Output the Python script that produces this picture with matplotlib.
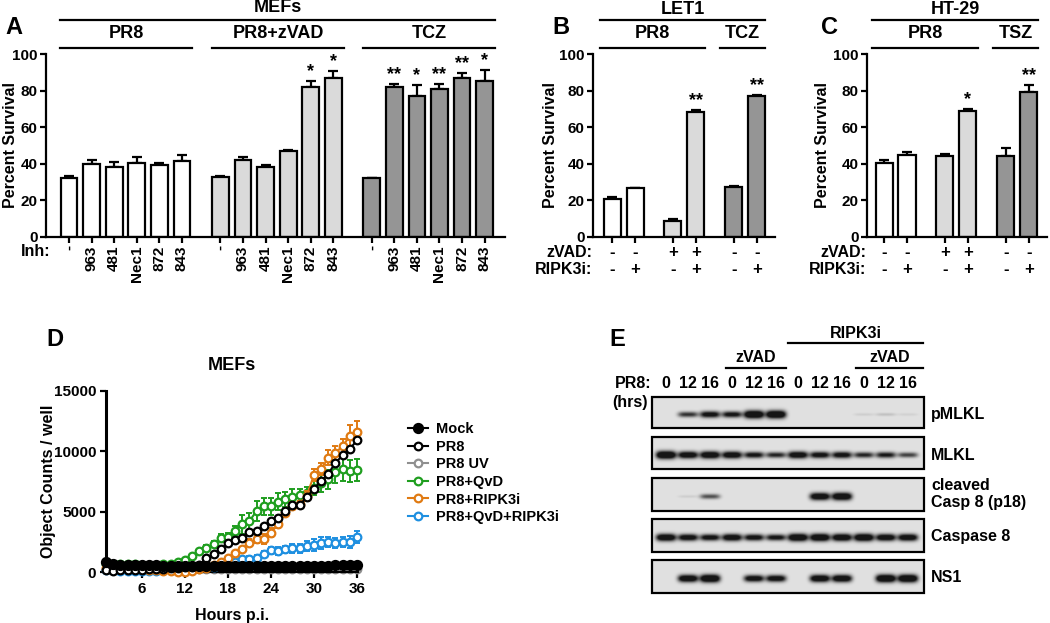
import matplotlib
matplotlib.use('Agg')
import matplotlib.pyplot as plt
import numpy as np
from matplotlib.transforms import offset_copy
from matplotlib.colors import LinearSegmentedColormap

plt.rcParams['font.family'] = ['Liberation Sans', 'DejaVu Sans']
plt.rcParams['font.weight'] = 'bold'
plt.rcParams['axes.labelweight'] = 'bold'
plt.rcParams['axes.titleweight'] = 'bold'
plt.rcParams['axes.linewidth'] = 1.6

W, H = 1050, 623
WHITE, LIGHT, DARK = 'white', '#dadada', '#959595'

# ---- panel A: MEFs, percent survival
a_inh = ['-', '963', '481', 'Nec1', '872', '843']
a_groups = ['PR8', 'PR8+zVAD', 'TCZ']
a_pr8 = [32, 40, 38, 40.5, 39.5, 41.5]
a_pr8_err = [1.5, 2, 3, 3, 1, 3.5]
a_zvad = [33, 42, 38, 47, 82, 87]
a_zvad_err = [0.5, 1.5, 1.5, 0.5, 3, 3.5]
a_tcz = [32, 82, 77, 81, 87, 85]
a_tcz_err = [0.5, 1.5, 6, 2.5, 2.5, 6]
a_zvad_stars = ['', '', '', '', '*', '*']
a_tcz_stars = ['', '**', '*', '**', '**', '*']

# ---- panel B: LET1
b_vals = [20.5, 27, 8.5, 68.5, 27.5, 77]
b_err = [1.5, 0, 1.5, 1, 0.5, 0.5]
b_stars = ['', '', '', '**', '', '**']
# ---- panel C: HT-29
c_vals = [40.5, 45, 44, 69, 44.5, 79]
c_err = [1.5, 1.5, 1.5, 1, 4, 4]
c_stars = ['', '', '', '*', '', '**']
bc_zvad = ['-', '-', '+', '+', '-', '-']
bc_ripk3i = ['-', '+', '-', '+', '-', '+']

# ---- panel D: object counts per well over time
hours = list(range(1, 37))
mock = [870, 650, 620, 600, 590, 570, 560, 540, 520, 510, 500, 500, 490, 480, 480, 470, 470, 460,
        460, 460, 470, 470, 480, 480, 490, 490, 500, 500, 500, 510, 520, 530, 540, 550, 560, 580]
pr8 = [150, 120, 150, 180, 200, 200, 220, 250, 280, 300, 330, 380, 450, 600, 1130, 1460, 1880, 2370,
       2650, 2840, 3340, 3400, 3810, 4220, 4500, 5050, 5520, 5550, 6200, 6900, 7530, 8140, 9050, 9660, 10200, 10900]
pr8_uv = [250, 240, 240, 230, 230, 230, 220, 220, 220, 220, 220, 230, 230, 230, 230, 240, 240, 240,
          240, 240, 250, 250, 250, 250, 250, 250, 260, 260, 260, 260, 270, 270, 270, 280, 280, 290]
qvd = [650, 650, 650, 640, 630, 620, 620, 620, 650, 700, 800, 1000, 1320, 1740, 2010, 2290, 2840, 2920,
       3390, 3950, 4220, 5050, 5450, 5450, 5820, 6020, 6240, 6350, 6570, 6980, 7340, 7670, 8280, 8560, 8360, 8450]
qvd_err = [100, 100, 100, 100, 100, 100, 100, 100, 100, 100, 100, 150, 150, 200, 200, 250, 300, 350,
           400, 800, 700, 800, 700, 700, 700, 600, 600, 500, 500, 600, 700, 800, 900, 1000, 900, 900]
ripk3i = [350, 320, 300, 280, 260, 240, 200, 150, 100, 50, 20, 30, 100, 250, 360, 550, 850, 1200,
          1550, 1900, 2430, 2700, 2760, 3260, 3950, 4910, 5460, 5600, 6290, 8030, 8500, 9470, 9880, 10430, 11260, 11590]
ripk3i_err = [100, 100, 100, 100, 100, 100, 100, 100, 100, 100, 100, 100, 100, 100, 100, 100, 150, 150,
              200, 200, 300, 300, 400, 400, 300, 300, 300, 300, 400, 500, 500, 600, 600, 600, 900, 900]
qvd_ripk3i = [200, 150, 120, 100, 100, 100, 100, 120, 150, 180, 200, 250, 300, 350, 400, 450, 550, 700,
              860, 1050, 1100, 1190, 1460, 1790, 1740, 1880, 1960, 1960, 2150, 2210, 2430, 2480, 2430, 2480, 2480, 2930]
qvd_ripk3i_err = [100, 100, 100, 100, 100, 100, 100, 100, 100, 100, 100, 100, 100, 100, 100, 100, 100, 150,
                  150, 200, 200, 200, 250, 300, 300, 300, 400, 400, 400, 500, 500, 400, 400, 400, 500, 500]

# ---- panel E: western blot band intensities (0..1), 12 lanes
e_lanes = ['0', '12', '16'] * 4
e_rows = ['pMLKL', 'MLKL', 'cleaved\nCasp 8 (p18)', 'Caspase 8', 'NS1']
e_pmlkl = [0, 0.55, 0.75, 0.7, 1, 1, 0, 0, 0, 0.06, 0.1, 0.05]
e_mlkl = [1, 0.85, 0.9, 0.85, 0.7, 0.6, 0.85, 0.75, 0.75, 0.6, 0.65, 0.5]
e_cleaved = [0, 0.06, 0.45, 0, 0, 0, 0, 0.9, 0.95, 0, 0, 0]
e_casp8 = [0.9, 0.8, 0.75, 0.85, 0.75, 0.7, 0.95, 0.95, 0.9, 0.95, 0.85, 0.85]
e_ns1 = [0, 0.9, 1, 0, 0.8, 0.8, 0, 0.9, 0.9, 0, 1, 1]


def px_axes(x0, y0, x1, y1):
    return fig.add_axes([x0 / W, 1 - y1 / H, (x1 - x0) / W, (y1 - y0) / H])


def style_bar_axes(ax, xlim, lab_x):
    ax.set_facecolor('none')
    ax.spines['top'].set_visible(False)
    ax.spines['right'].set_visible(False)
    ax.set_xlim(*xlim)
    ax.set_ylim(0, 100)
    ax.set_yticks([0, 20, 40, 60, 80, 100])
    ax.tick_params(axis='both', direction='out', length=4, width=1.6, labelsize=11, pad=2)
    ax.set_ylabel('Percent Survival', fontsize=11.5)
    ax.yaxis.set_label_coords(lab_x, 0.5)


def draw_bars(ax, pos, vals, errs, colors, stars):
    ax.bar(pos, vals, width=0.74, color=colors, edgecolor='black', linewidth=1.6, zorder=2)
    ax.errorbar(pos, vals, yerr=[np.zeros(len(errs)), errs], fmt='none', ecolor='black',
                elinewidth=1.6, capsize=3.5, capthick=1.6, zorder=1)
    for p, v, e, s in zip(pos, vals, errs, stars):
        if s:
            ax.text(p, v + e + 0.5, s, ha='center', va='bottom', fontsize=13)


fig = plt.figure(figsize=(W / 100, H / 100), dpi=100)

# ---------- A
axA = px_axes(46, 54, 505, 237)
posA = []
valsA, errA, colA, starA = [], [], [], []
for g, (v, e, c, s) in enumerate([(a_pr8, a_pr8_err, WHITE, [''] * 6),
                                   (a_zvad, a_zvad_err, LIGHT, a_zvad_stars),
                                   (a_tcz, a_tcz_err, DARK, a_tcz_stars)]):
    posA += [g * 6.7 + k for k in range(6)]
    valsA += v
    errA += e
    colA += [c] * 6
    starA += s
draw_bars(axA, posA, valsA, errA, colA, starA)
style_bar_axes(axA, (-1.02, 19.3), -0.06)
axA.set_xticks(posA)
axA.set_xticklabels(a_inh * 3, rotation=90, fontsize=11)
axA.text(0, 0, 'Inh:', transform=offset_copy(axA.transAxes, fig=fig, x=4, y=-15, units='dots'),
         ha='right', va='center', fontsize=11.5)

# ---------- B and C
posBC = [0, 1, 2.65, 3.65, 5.3, 6.3]
colBC = [WHITE, WHITE, LIGHT, LIGHT, DARK, DARK]
axB = px_axes(593, 54, 775, 237)
draw_bars(axB, posBC, b_vals, b_err, colBC, b_stars)
style_bar_axes(axB, (-0.83, 7.09), -0.195)
axC = px_axes(867, 54, 1047, 237)
draw_bars(axC, posBC, c_vals, c_err, colBC, c_stars)
style_bar_axes(axC, (-0.74, 7.09), -0.205)
for ax in (axB, axC):
    ax.set_xticks(posBC)
    ax.set_xticklabels([])
    for dy, row, name in ((-16, bc_zvad, 'zVAD:'), (-33, bc_ripk3i, 'RIPK3i:')):
        tr = offset_copy(ax.get_xaxis_transform(), fig=fig, y=dy, units='dots')
        for p, s in zip(posBC, row):
            ax.text(p, 0, s, transform=tr, ha='center', va='center', fontsize=12)
        ax.text(0, 0, name, transform=offset_copy(ax.transAxes, fig=fig, x=-1, y=dy, units='dots'),
                ha='right', va='center', fontsize=11.5)

# ---------- D
axD = px_axes(106, 391, 358, 572)
axD.set_facecolor('none')
series = [(pr8_uv, None, '#8f8f8f', 'white', 'PR8 UV', 5.5),
          (qvd_ripk3i, qvd_ripk3i_err, '#1e8fe0', 'white', 'PR8+QvD+RIPK3i', 5.5),
          (qvd, qvd_err, '#1f9e1f', 'white', 'PR8+QvD', 5.5),
          (ripk3i, ripk3i_err, '#e07a12', 'white', 'PR8+RIPK3i', 5.5),
          (pr8, None, 'black', 'white', 'PR8', 5.5),
          (mock, None, 'black', 'black', 'Mock', 6.5)]
handles = {}
for z, (vals, errs, col, face, name, ms) in enumerate(series):
    if errs is not None:
        axD.errorbar(hours, vals, yerr=errs, fmt='none', ecolor=col, elinewidth=1.4,
                     capsize=2.5, capthick=1.4, zorder=2 + z, clip_on=False)
    ln, = axD.plot(hours, vals, '-o', color=col, mfc=face, mec=col, ms=ms, mew=1.6, lw=1.5,
                   zorder=2 + z, clip_on=False)
    handles[name] = ln
axD.set_xlim(1, 36.15)
axD.set_ylim(0, 15000)
axD.set_xticks([6, 12, 18, 24, 30, 36])
axD.set_yticks([0, 5000, 10000, 15000])
axD.spines['top'].set_visible(False)
axD.spines['right'].set_visible(False)
axD.spines['left'].set_linewidth(2.2)
axD.tick_params(axis='both', direction='out', length=4, width=1.6, labelsize=11, pad=3)
axD.set_title('MEFs', fontsize=13, pad=15)
axD.set_xlabel('Hours p.i.', fontsize=11.5, labelpad=9)
axD.set_ylabel('Object Counts / well', fontsize=11.5)
axD.yaxis.set_label_coords(-0.2, 0.5)
order = ['Mock', 'PR8', 'PR8 UV', 'PR8+QvD', 'PR8+RIPK3i', 'PR8+QvD+RIPK3i']
fig.legend([handles[k] for k in order], order, loc='upper left', frameon=False,
           bbox_to_anchor=(408 / W, 1 - 422 / H), borderpad=0, borderaxespad=0,
           fontsize=10.5, labelspacing=0.25, handlelength=1.4, handletextpad=0.55)

# ---------- overlay for headers, panel letters and blot
ov = fig.add_axes([0, 0, 1, 1])
ov.set_xlim(0, W)
ov.set_ylim(H, 0)
ov.axis('off')


def header(text, x0, x1, y_text, y_line, size=13):
    ov.text((x0 + x1) / 2, y_text, text, ha='center', va='center', fontsize=size)
    ov.plot([x0, x1], [y_line, y_line], color='black', lw=1.6)


header('MEFs', 60, 495, 8, 19.5)
header('PR8', 60, 192, 34, 47.5)
header('PR8+zVAD', 212, 344, 34, 47.5)
header('TCZ', 363, 495, 34, 47.5)
header('LET1', 600, 765, 9, 20)
header('PR8', 600, 705, 34, 47.5)
header('TCZ', 720, 765, 34, 47.5)
header('HT-29', 872, 1038, 9, 20)
header('PR8', 872, 978, 34, 47.5)
header('TSZ', 993, 1038, 34, 47.5)
for lab, x, y in (('A', 14, 28), ('B', 561, 28), ('C', 830, 28), ('D', 55, 340), ('E', 617, 340)):
    ov.text(x, y, lab, ha='center', va='center', fontsize=17)

# blot
header('RIPK3i', 788, 923, 333, 343, size=11.5)
header('zVAD', 726, 786, 357, 368, size=11.5)
header('zVAD', 856, 923, 357, 368, size=11.5)
lane_x = [666 + 22.0 * i for i in range(12)]
for x, t in zip(lane_x, e_lanes):
    ov.text(x, 383, t, ha='center', va='center', fontsize=11.5)
ov.text(652, 383, 'PR8:', ha='right', va='center', fontsize=11.5)
ov.text(648, 402, '(hrs)', ha='right', va='center', fontsize=11.5)

bx0, bx1 = 652, 924
row_boxes = [(397, 428), (437, 469), (478, 511), (519, 552), (560, 593)]
row_data = [e_pmlkl, e_mlkl, e_cleaved, e_casp8, e_ns1]
label_y = [414, 455, 494, 537, 578]
cmap = LinearSegmentedColormap.from_list('blot', ['#e1e1e1', '#151515'])
for (y0, y1), intens, name, ly in zip(row_boxes, row_data, e_rows, label_y):
    xs = np.linspace(bx0, bx1, (bx1 - bx0) * 3)
    ys = np.linspace(y0, y1, (y1 - y0) * 3)
    X, Y = np.meshgrid(xs, ys)
    img = np.zeros_like(X)
    cy = (y0 + y1) / 2 + 2
    for cx, a in zip(lane_x, intens):
        h = 1.3 + 2.6 * a
        img += 1.6 * a * np.exp(-((X - cx) / 10) ** 4 - ((Y - cy) / h) ** 2)
    ov.imshow(np.clip(img, 0, 1), extent=(bx0, bx1, y1, y0), cmap=cmap, vmin=0, vmax=1,
              aspect='auto', interpolation='bilinear', zorder=1)
    ov.add_patch(plt.Rectangle((bx0, y0), bx1 - bx0, y1 - y0, fill=False, ec='black', lw=1.6, zorder=2))
    ov.text(931, ly, name, ha='left', va='center', fontsize=11.5, linespacing=1.25)
ov.set_xlim(0, W)
ov.set_ylim(H, 0)

fig.savefig('out.png', dpi=100)
